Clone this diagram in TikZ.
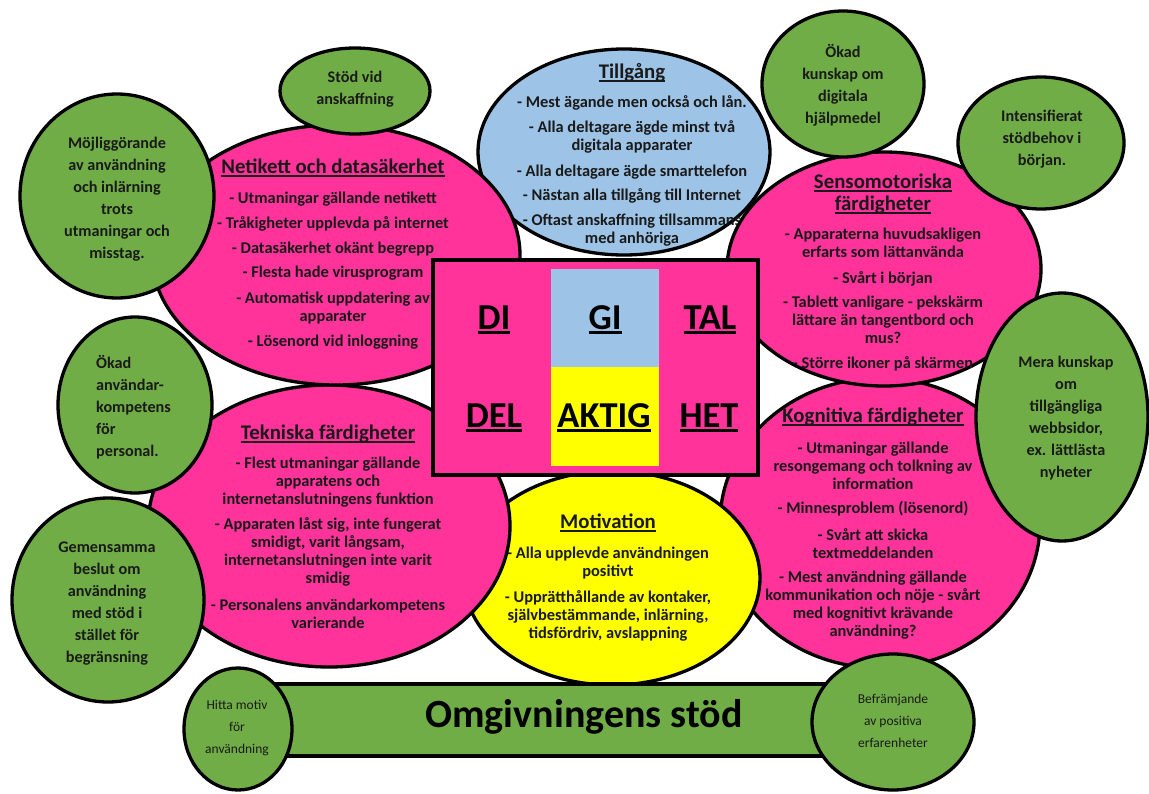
\documentclass[tikz,border=0pt]{standalone}
\usepackage{fontspec}
\setmainfont{Carlito}
\definecolor{pk}{HTML}{FF3399}
\definecolor{bl}{HTML}{9DC3E6}
\definecolor{gr}{HTML}{70AD47}
\definecolor{yl}{HTML}{FFFF00}
\definecolor{tx}{HTML}{1A1A1A}
\newcommand\ulw[3]{\setbox0\hbox{#3}\leavevmode\rlap{\rule[-#1]{\wd0}{#2}}\box0}
\newcommand\ttlu[1]{\ulw{3pt}{1.4pt}{#1}}
\newcommand\bigu[1]{\ulw{5pt}{3pt}{#1}}
\tikzset{
  outl/.style={draw=black, line width=3.3pt},
  pinkshape/.style={outl, fill=pk},
  blueshape/.style={outl, fill=bl},
  yellowshape/.style={outl, fill=yl},
  greenshape/.style={outl, fill=gr},
  body/.style={font=\bfseries\fontsize{16.4}{18}\selectfont, align=center, inner sep=0pt, text=tx},
  ttl/.style={font=\bfseries\fontsize{20.8}{22}\selectfont, align=center, inner sep=0pt, text=tx},
  gtxt/.style={font=\bfseries\fontsize{16.2}{22}\selectfont, align=center, inner sep=0pt, text=tx},
  rtxt/.style={font=\fontsize{13.5}{22}\selectfont, align=center, inner sep=0pt, text=tx},
  bigword/.style={font=\bfseries\fontsize{36.5}{40}\selectfont, inner sep=0pt, text=black},
}
\begin{document}
\begin{tikzpicture}[x=1pt,y=-1pt]
\useasboundingbox (0,0) rectangle (1149,793);
\fill[white] (0,0) rectangle (1149,793);

% Tillgang (blue)
\path[blueshape] (624,152) ellipse [x radius=146pt, y radius=103pt];
\node[ttl] (t0) at (632,73) {\ttlu{Tillgång}};
\node[body] (t1) at (632,103) {- Mest ägande men också och lån.};
\node[body] (t2) at (632,137) {- Alla deltagare ägde minst två\\digitala apparater};
\node[body] (t3) at (632,172) {- Alla deltagare ägde smarttelefon};
\node[body] (t4) at (632,196) {- Nästan alla tillgång till Internet};
\node[body] (t5) at (632,230) {- Oftast anskaffning tillsammans\\med anhöriga};

% Kognitiva (pink)
\path[pinkshape] (880,523) ellipse [x radius=160pt, y radius=145pt];
\node[ttl] (k0) at (873,417) {\ttlu{Kognitiva färdigheter}};
\node[body] (k1) at (873,466) {- Utmaningar gällande\\resongemang och tolkning av\\information};
\node[body] (k2) at (873,509) {- Minnesproblem (lösenord)};
\node[body] (k3) at (873,544) {- Svårt att skicka\\textmeddelanden};
\node[body] (k4) at (873,605) {- Mest användning gällande\\kommunikation och nöje - svårt\\med kognitivt krävande\\användning?};

% Motivation (yellow)
\path[yellowshape] (612,578) ellipse [x radius=148pt, y radius=107pt];
\node[ttl] (m0) at (608,523) {\ttlu{Motivation}};
\node[body] (m1) at (608,563) {- Alla upplevde användningen\\positivt};
\node[body] (m2) at (608,616) {- Upprätthållande av kontaker,\\självbestämmande, inlärning,\\tidsfördriv, avslappning};

% Tekniska (pink)
\path[pinkshape] (329,526) ellipse [x radius=181pt, y radius=141pt];
\node[ttl] (e0) at (328,434) {\ttlu{Tekniska färdigheter}};
\node[body] (e1) at (328,482) {- Flest utmaningar gällande\\apparatens och\\internetanslutningens funktion};
\node[body] (e2) at (328,552) {- Apparaten låst sig, inte fungerat\\smidigt, varit långsam,\\internetanslutningen inte varit\\smidig};
\node[body] (e3) at (328,614) {- Personalens användarkompetens\\varierande};

% Netikett (pink)
\path[pinkshape] (336,255) ellipse [x radius=184pt, y radius=130pt];
\node[ttl] (n0) at (333,168) {\ttlu{Netikett och datasäkerhet}};
\node[body] (n1) at (333,199) {- Utmaningar gällande netikett};
\node[body] (n2) at (333,224) {- Tråkigheter upplevda på internet};
\node[body] (n3) at (333,249) {- Datasäkerhet okänt begrepp};
\node[body] (n4) at (333,273) {- Flesta hade virusprogram};
\node[body] (n5) at (333,308) {- Automatisk uppdatering av\\apparater};
\node[body] (n6) at (333,342) {- Lösenord vid inloggning};

% Sensomotoriska (pink)
\path[pinkshape] (884,269) ellipse [x radius=157pt, y radius=117pt];
\node[ttl] (s0) at (883,194) {\ttlu{Sensomotoriska}\\\ttlu{färdigheter}};
\node[body] (s1) at (883,243) {- Apparaterna huvudsakligen\\erfarts som lättanvända};
\node[body] (s2) at (883,279) {- Svårt i början};
\node[body] (s3) at (883,320) {- Tablett vanligare - pekskärm\\lättare än tangentbord och\\mus?};
\node[body] (s4) at (883,364) {- Större ikoner på skärmen};

% green bar
\path[greenshape] (262,684) rectangle (840,756);
\node[font=\bfseries\fontsize{40}{42}\selectfont, inner sep=0pt] (omg) at (584,717) {Omgivningens stöd};

% green circles
\path[greenshape] (355,91) ellipse [x radius=75pt, y radius=43pt];
\node[gtxt] (g1) at (355,89) {Stöd vid\\anskaffning};

\path[greenshape] (117,196) ellipse [x radius=97pt, y radius=102pt];
\node[gtxt] (g2) at (117,199) {Möjliggörande\\av användning\\och inlärning\\trots\\utmaningar och\\misstag.};

\path[greenshape] (135,405) ellipse [x radius=77pt, y radius=88pt];
\node[gtxt, align=left, anchor=west] (g3) at (96,407) {Ökad\\användar-\\kompetens\\för\\personal.};

\path[greenshape] (108,600) ellipse [x radius=96pt, y radius=102pt];
\node[gtxt] (g4) at (107,604) {Gemensamma\\beslut om\\användning\\med stöd i\\stället för\\begränsning};

\path[greenshape] (843,84) ellipse [x radius=81pt, y radius=73pt];
\node[gtxt] (g5) at (843,85) {Ökad\\kunskap om\\digitala\\hjälpmedel};

\path[greenshape] (1041,143) ellipse [x radius=83pt, y radius=66pt];
\node[gtxt] (g6) at (1042,139) {Intensifierat\\stödbehov i\\början.};

\path[greenshape] (1062,417) ellipse [x radius=86pt, y radius=124pt];
\node[gtxt] (g7) at (1066,418) {Mera kunskap\\om\\tillgängliga\\webbsidor,\\ex. lättlästa\\nyheter};

\path[greenshape] (238,729) ellipse [x radius=54pt, y radius=61pt];
\node[rtxt] (g8) at (237,728) {Hitta motiv\\för\\användning};

\path[greenshape] (893,722) ellipse [x radius=81pt, y radius=68pt];
\node[rtxt] (g9) at (893,721) {Befrämjande\\av positiva\\erfarenheter};

% center box
\path[pinkshape] (433,260) rectangle (758,475);
\fill[bl] (551,269) rectangle (659,367);
\fill[yl] (551,367) rectangle (659,466);
\node[bigword] (w1) at (494,320) {\bigu{DI}};
\node[bigword] (w2) at (605,320) {\bigu{GI}};
\node[bigword] (w3) at (710,320) {\bigu{TAL}};
\node[bigword] (w4) at (494,418) {\bigu{DEL}};
\node[bigword] (w5) at (604,418) {\bigu{AKTIG}};
\node[bigword] (w6) at (709,418) {\bigu{HET}};
\end{tikzpicture}
\end{document}
